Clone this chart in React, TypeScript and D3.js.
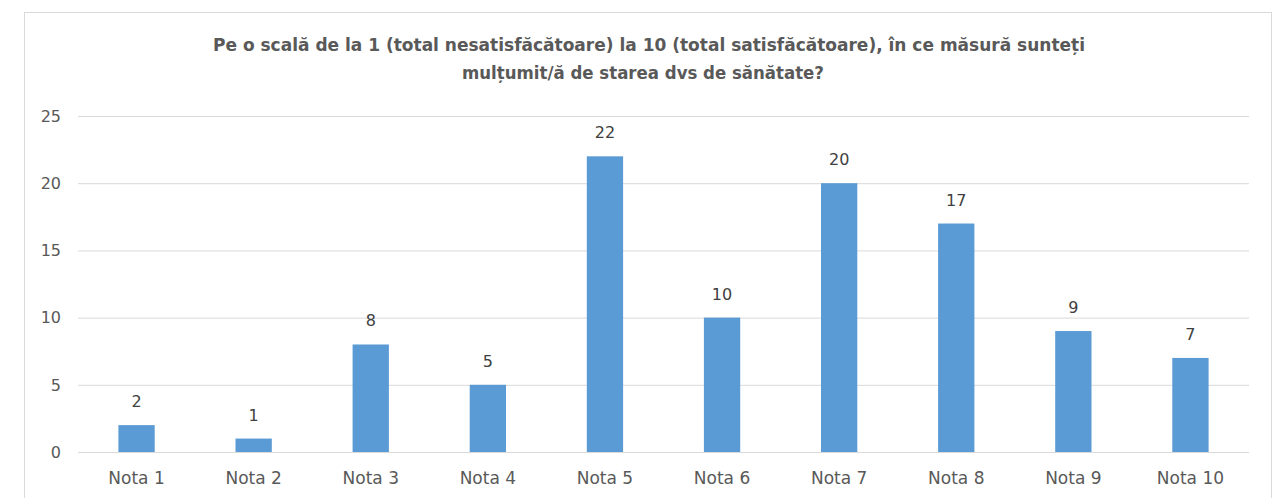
import * as d3 from "d3";

const categories = ["Nota 1", "Nota 2", "Nota 3", "Nota 4", "Nota 5", "Nota 6", "Nota 7", "Nota 8", "Nota 9", "Nota 10"];
const values = [2, 1, 8, 5, 22, 10, 20, 17, 9, 7];
const yTicks = [0, 5, 10, 15, 20, 25];
const titleLines = [
  "Pe o scală  de la 1 (total nesatisfăcătoare)  la 10 (total satisfăcătoare),  în ce măsură  sunteți",
  "mulțumit/ă de starea dvs de sănătate?",
];

/** svg dimensions */
const width = 1274;
const height = 498;
const plot = { left: 78, right: 1249, top: 116, bottom: 452 };
const font = "'DejaVu Sans', sans-serif";
const textColor = "#595959";

// title line widths as measured on the picture
const titleWidths = [872, 362];

const App = () => {
  const xScale = d3
    .scaleBand()
    .domain(categories)
    .range([plot.left, plot.right])
    .paddingInner(0.69)
    .paddingOuter(0.345);
  const yScale = d3.scaleLinear().domain([0, 25]).range([plot.bottom, plot.top]);

  return (
    <svg
      width={width}
      height={height}
      viewBox={[0, 0, width, height].join(" ")}
      style={{ position: "absolute", left: 0, top: 0, background: "#fff" }}
    >
      {/* chart border */}
      <rect x={24.5} y={12.5} width={1247} height={500} fill="#fff" stroke="#d9d9d9" />
      {/* title */}
      {titleLines.map((line, i) => (
        <text
          key={i}
          x={i === 0 ? 213 : 462}
          y={51 + i * 28}
          textLength={titleWidths[i]}
          lengthAdjust="spacingAndGlyphs"
          fill={textColor}
          style={{ fontFamily: font, fontSize: "17px", fontWeight: "bold" }}
        >
          {line}
        </text>
      ))}
      {/* gridlines and y ticks */}
      {yTicks.map((t) => (
        <g key={t}>
          <line x1={plot.left} x2={plot.right} y1={yScale(t) + 0.5} y2={yScale(t) + 0.5} stroke="#d9d9d9" />
          <text
            x={61}
            y={yScale(t)}
            dy="0.36em"
            textAnchor="end"
            fill={textColor}
            style={{ fontFamily: font, fontSize: "16px" }}
          >
            {t}
          </text>
        </g>
      ))}
      {/* bars */}
      {categories.map((c, i) => (
        <g key={c}>
          <rect
            x={xScale(c)}
            y={yScale(values[i])}
            width={xScale.bandwidth()}
            height={yScale(0) - yScale(values[i])}
            fill="#5b9bd5"
          />
          <text
            x={(xScale(c) ?? 0) + xScale.bandwidth() / 2}
            y={yScale(values[i]) - 18}
            textAnchor="middle"
            fill="#404040"
            style={{ fontFamily: font, fontSize: "16px" }}
          >
            {values[i]}
          </text>
          <text
            x={(xScale(c) ?? 0) + xScale.bandwidth() / 2}
            y={484}
            textAnchor="middle"
            fill={textColor}
            style={{ fontFamily: font, fontSize: "17px" }}
          >
            {c}
          </text>
        </g>
      ))}
    </svg>
  );
};

export default App;
